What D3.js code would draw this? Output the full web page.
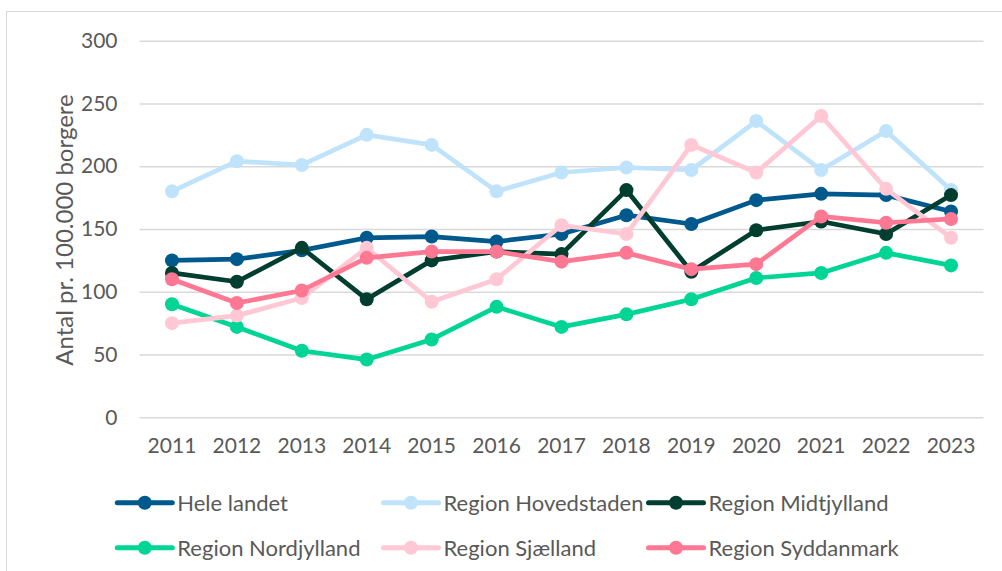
<!DOCTYPE html>
<html>
<head>
<meta charset="utf-8">
<script src="https://cdn.jsdelivr.net/npm/d3@7"></script>
<style>
  body { margin: 0; background: #fff; }
  svg text { font-family: Lato, "Noto Sans", sans-serif; fill: #595959; }
</style>
</head>
<body>
<div id="chart"></div>
<script>
// år og serier (antal pr. 100.000 borgere)
const years = ["2011","2012","2013","2014","2015","2016","2017","2018","2019","2020","2021","2022","2023"];
const yTicks = [0, 50, 100, 150, 200, 250, 300];

const heleLandet   = [125, 126, 133, 143, 144, 140, 146, 161, 154, 173, 178, 177, 164];
const hovedstaden  = [180, 204, 201, 225, 217, 180, 195, 199, 197, 236, 197, 228, 181];
const midtjylland  = [115, 108, 135, 94, 125, 132, 130, 181, 116, 149, 156, 146, 177];
const nordjylland  = [90, 72, 53, 46, 62, 88, 72, 82, 94, 111, 115, 131, 121];
const sjaelland    = [75, 81, 95, 135, 92, 110, 153, 146, 217, 195, 240, 182, 143];
const syddanmark   = [110, 91, 101, 127, 132, 132, 124, 131, 118, 122, 160, 155, 158];

const seriesNames  = ["Hele landet", "Region Hovedstaden", "Region Midtjylland",
                      "Region Nordjylland", "Region Sjælland", "Region Syddanmark"];
const seriesValues = [heleLandet, hovedstaden, midtjylland, nordjylland, sjaelland, syddanmark];
const seriesColors = ["#00598d", "#c0e3fc", "#003e30", "#00d596", "#ffc8d4", "#ff7893"];

const width = 1002, height = 571;

const svg = d3.select("#chart")
    .append("svg")
    .attr("width", width)
    .attr("height", height);

// ramme
svg.append("rect")
    .attr("x", 6.5).attr("y", 11.5)
    .attr("width", 1000).attr("height", 570)
    .attr("fill", "none")
    .attr("stroke", "#d9d9d9")
    .attr("stroke-width", 1);

const x = d3.scaleBand()
    .domain(years)
    .range([139.5, 983.5])
    .padding(0);

const y = d3.scaleLinear()
    .domain([0, 300])
    .range([417.3, 40.7]);

const cx = d => x(d) + x.bandwidth() / 2;

// gitterlinjer + y-akse
const yAxis = svg.append("g")
    .attr("transform", "translate(139.5,0)")
    .call(d3.axisLeft(y).tickValues(yTicks).tickSize(-(983.5 - 139.5)).tickPadding(22));
yAxis.select(".domain").remove();
yAxis.selectAll(".tick line")
    .attr("stroke", "#d9d9d9")
    .attr("stroke-width", 1.5);
yAxis.selectAll(".tick text")
    .style("font-size", "21px")
    .attr("fill", "#595959");

// x-akse
const xAxis = svg.append("g")
    .attr("transform", "translate(0,417.3)")
    .call(d3.axisBottom(x).tickSize(0).tickPadding(21));
xAxis.select(".domain").remove();
xAxis.selectAll(".tick text")
    .style("font-size", "21px")
    .attr("fill", "#595959");

// y-titel
svg.append("text")
    .attr("transform", "translate(63,230) rotate(-90)")
    .attr("text-anchor", "middle")
    .attr("dominant-baseline", "central")
    .style("font-size", "24px")
    .text("Antal pr. 100.000 borgere");

const line = d3.line()
    .x((d, i) => cx(years[i]))
    .y(d => y(d));

seriesValues.forEach((vals, s) => {
    const g = svg.append("g").attr("class", "series");
    g.append("path")
        .datum(vals)
        .attr("d", line)
        .attr("fill", "none")
        .attr("stroke", seriesColors[s])
        .attr("stroke-width", 4.7)
        .attr("stroke-linejoin", "round");
    g.selectAll("circle")
        .data(vals)
        .join("circle")
        .attr("cx", (d, i) => cx(years[i]))
        .attr("cy", d => y(d))
        .attr("r", 7)
        .attr("fill", seriesColors[s]);
});

// forklaring
const legendCols = [117.3, 383.5, 648.5];
const legendRows = [502.7, 547.7];
const legend = svg.append("g");
seriesNames.forEach((name, i) => {
    const lx = legendCols[i % 3], ly = legendRows[Math.floor(i / 3)];
    const item = legend.append("g").attr("transform", `translate(${lx},${ly})`);
    item.append("line")
        .attr("x1", 0).attr("x2", 55)
        .attr("y1", 0).attr("y2", 0)
        .attr("stroke", seriesColors[i])
        .attr("stroke-width", 5)
        .attr("stroke-linecap", "round");
    item.append("circle")
        .attr("cx", 27.5).attr("cy", 0)
        .attr("r", 7)
        .attr("fill", seriesColors[i]);
    item.append("text")
        .attr("x", 60)
        .attr("y", 0)
        .attr("dominant-baseline", "central")
        .style("font-size", "22px")
        .text(name);
});
</script>
</body>
</html>
